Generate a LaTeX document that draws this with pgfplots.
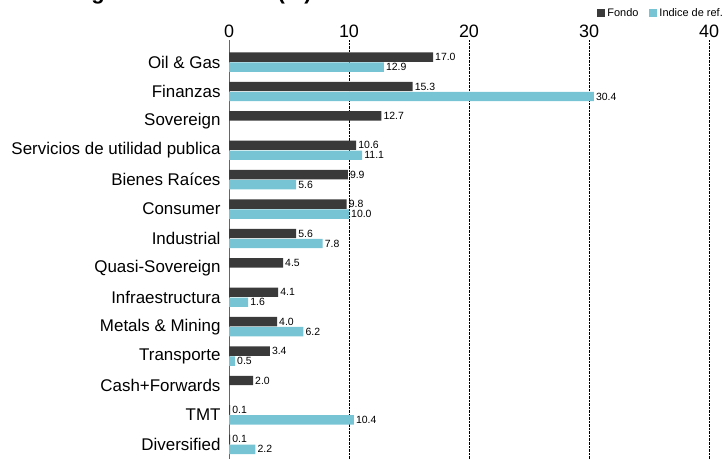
\documentclass[border=0pt]{standalone}
\usepackage{fontspec}
\setmainfont{Liberation Sans}
\usepackage{pgfplots}
\pgfplotsset{compat=1.18}
\definecolor{fondo}{HTML}{3A3A3A}
\definecolor{indice}{HTML}{77C5D4}
\begin{document}
\begin{tikzpicture}
\begin{axis}[
    at={(229bp,0bp)}, anchor=south west,
    scale only axis, width=480bp, height=419bp,
    xbar, bar width=9.4bp,
    xmin=0, xmax=40,
    ymin=-0.75, ymax=13.5, y dir=reverse,
    axis line style={draw=none},
    /pgf/number format/assume math mode=true,
    xtick={10,20,30,40},
    extra x ticks={0},
    extra x tick style={grid style={solid, draw=black!60, line width=0.9bp}},
    xmajorgrids,
    grid style={densely dotted, black, line width=0.6bp},
    xticklabel pos=top,
    major tick length=0pt,
    x tick label style={font=\fontsize{18}{20}\selectfont, yshift=-1.5bp},
    ytick={0,...,13},
    yticklabels={Oil \& Gas, Finanzas, Sovereign, Servicios de utilidad publica,
        Bienes Raíces, Consumer, Industrial, Quasi-Sovereign, Infraestructura,
        Metals \& Mining, Transporte, Cash+Forwards, TMT, Diversified},
    y tick label style={font=\fontsize{17}{18}\selectfont, xshift=-5bp},
    point meta=x,
    nodes near coords={\pgfmathprintnumber[fixed,fixed zerofill,precision=1]{\pgfplotspointmeta}},
    nodes near coords style={font=\fontsize{10.5}{12}\selectfont, inner sep=2bp},
    legend style={at={(1,1)}, anchor=north east, xshift=19bp, yshift=36bp,
        draw=none, fill=none, legend columns=2,
        font=\fontsize{11}{12}\selectfont,
        /tikz/every even column/.append style={column sep=9bp}},
    legend image code/.code={\fill[#1] (0bp,-4bp) rectangle (8bp,4bp);},
]
% Fondo
\addplot[fill=fondo, draw=none, bar shift=5bp] coordinates {
    (17.0,0) (15.3,1) (12.7,2) (10.6,3) (9.9,4) (9.8,5) (5.6,6)
    (4.5,7) (4.1,8) (4.0,9) (3.4,10) (2.0,11) (0.1,12) (0.1,13)};
\addlegendentry{Fondo}
% Indice de referencia
\addplot[fill=indice, draw=none, bar shift=-5bp] coordinates {
    (12.9,0) (30.4,1) (11.1,3) (5.6,4) (10.0,5) (7.8,6)
    (1.6,8) (6.2,9) (0.5,10) (10.4,12) (2.2,13)};
\addlegendentry{Indice de ref.}
\end{axis}
\node[anchor=base west, inner sep=0, font=\bfseries\fontsize{22}{24}\selectfont]
    at (57bp,459.5bp) {Asignación sectorial (\%)};
\pgfresetboundingbox
\path[use as bounding box] (0bp,0bp) rectangle (727bp,459bp);
\end{tikzpicture}
\end{document}
